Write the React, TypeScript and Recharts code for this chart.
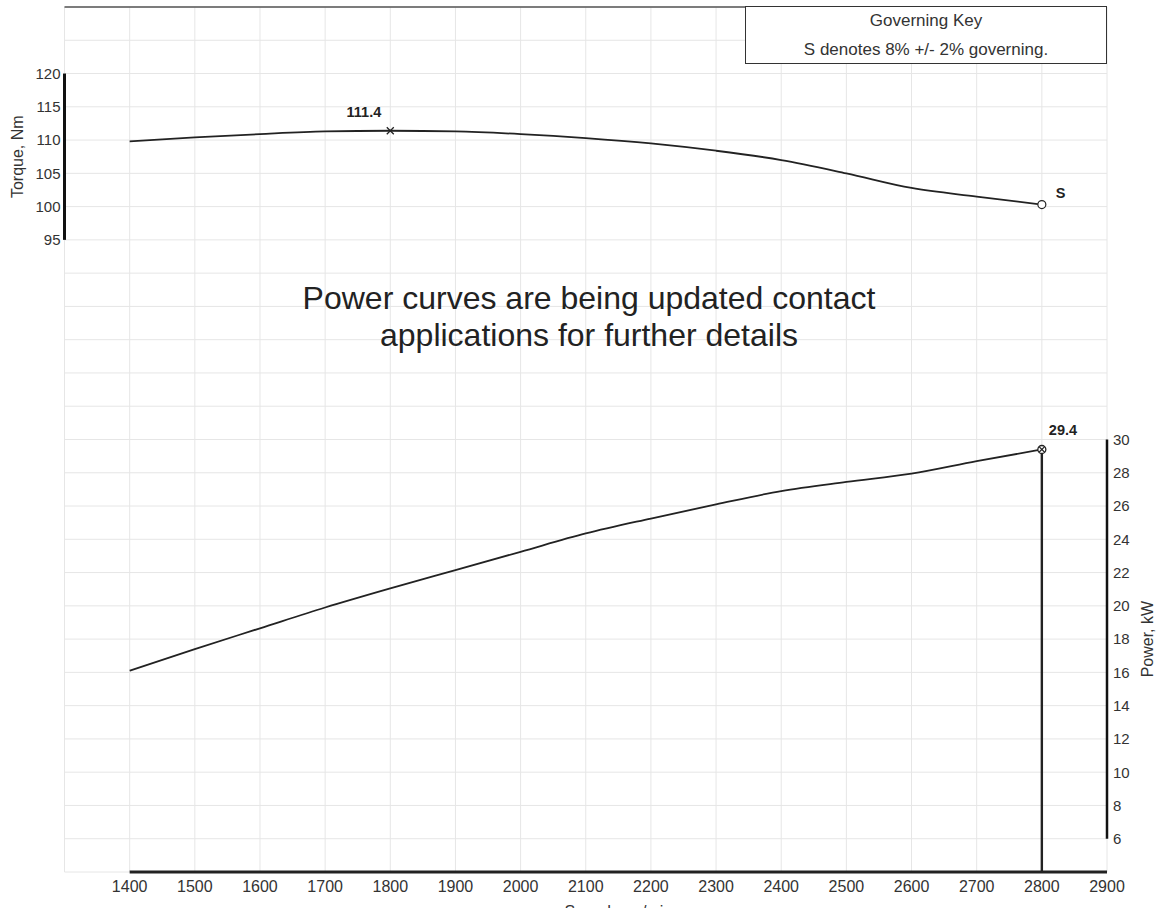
import { ComposedChart, Line, XAxis, YAxis, CartesianGrid, ReferenceLine } from "recharts"

const FONT = "'Liberation Sans', Arial, sans-serif"
const INK = "#222"

// engine speed, rev/min
const speeds = [1400, 1500, 1600, 1700, 1800, 1900, 2000, 2100, 2200, 2300, 2400, 2500, 2600, 2700, 2800]
// torque, Nm
const torque = [109.8, 110.4, 110.9, 111.3, 111.4, 111.3, 110.9, 110.3, 109.5, 108.4, 107.0, 105.0, 102.8, 101.5, 100.3]
// power, kW
const power = [16.1, 17.4, 18.65, 19.9, 21.05, 22.15, 23.25, 24.35, 25.25, 26.1, 26.9, 27.45, 27.95, 28.7, 29.4]

const speedTicks = [1300, 1400, 1500, 1600, 1700, 1800, 1900, 2000, 2100, 2200, 2300, 2400, 2500, 2600, 2700, 2800, 2900]
const torqueTicks = [0, 5, 10, 15, 20, 25, 30, 35, 40, 45, 50, 55, 60, 65, 70, 75, 80, 85, 90, 95, 100, 105, 110, 115, 120, 125, 130]
const powerTicks = [6, 8, 10, 12, 14, 16, 18, 20, 22, 24, 26, 28, 30]

const governingNote = "S denotes 8% +/- 2% governing."
const notice = ["Power curves are being updated contact", "applications for further details"]

const data = speeds.map((speed, i) => ({ speed, torque: torque[i], power: power[i] }))

const peakIdx = torque.indexOf(Math.max(...torque))
const lastIdx = speeds.length - 1

function TorqueDot(props: any) {
  const { cx, cy, index } = props
  if (index === peakIdx) {
    const s = 3.5
    return (
      <g key={`t${index}`}>
        <path d={`M${cx - s},${cy - s}L${cx + s},${cy + s}M${cx - s},${cy + s}L${cx + s},${cy - s}`} stroke={INK} strokeWidth={1.3} />
        <text x={cx - 9} y={cy - 14} textAnchor="end" fontSize={14.5} fontWeight="bold" fill={INK} fontFamily={FONT}>
          {torque[index].toFixed(1)}
        </text>
      </g>
    )
  }
  if (index === lastIdx) {
    return (
      <g key={`t${index}`}>
        <circle cx={cx} cy={cy} r={4} fill="#fff" stroke={INK} strokeWidth={1.2} />
        <text x={cx + 14} y={cy - 7} fontSize={14.5} fontWeight="bold" fill={INK} fontFamily={FONT}>
          S
        </text>
      </g>
    )
  }
  return <g key={`t${index}`} />
}

function PowerDot(props: any) {
  const { cx, cy, index } = props
  if (index === lastIdx) {
    const s = 2.8
    return (
      <g key={`p${index}`}>
        <circle cx={cx} cy={cy} r={4} fill="#fff" stroke={INK} strokeWidth={1.3} />
        <path d={`M${cx - s},${cy - s}L${cx + s},${cy + s}M${cx - s},${cy + s}L${cx + s},${cy - s}`} stroke={INK} strokeWidth={1.2} />
        <text x={cx + 7} y={cy - 14} fontSize={14.5} fontWeight="bold" fill={INK} fontFamily={FONT}>
          {power[index].toFixed(1)}
        </text>
      </g>
    )
  }
  return <g key={`p${index}`} />
}

function vbOf(props: any) {
  const vb = props.viewBox || {}
  const x = vb.x ?? Math.min(vb.x1, vb.x2)
  const y = vb.y ?? Math.min(vb.y1, vb.y2)
  const width = vb.width ?? Math.abs(vb.x2 - vb.x1)
  const height = vb.height ?? Math.abs(vb.y2 - vb.y1)
  return { x, y, width, height }
}

function RotatedTitle(text: string, dx: number) {
  return (props: any) => {
    const { x, y, height } = vbOf(props)
    const tx = x + dx
    const ty = y + height / 2
    return (
      <text x={tx} y={ty} transform={`rotate(-90 ${tx} ${ty})`} textAnchor="middle" dominantBaseline="central" fontSize={16} fill="#333" fontFamily={FONT}>
        {text}
      </text>
    )
  }
}

function SpeedTitle(props: any) {
  const { x, y, width } = vbOf(props)
  return (
    <text x={x + width / 2} y={y + 44.5} textAnchor="middle" fontSize={16} fill="#333" fontFamily={FONT}>
      Speed, rev/min
    </text>
  )
}

export default function App() {
  return (
    <div style={{ position: "absolute", left: 0, top: 0, width: 1163, height: 908, background: "#fff", fontFamily: FONT }}>
      <ComposedChart width={1163} height={908} data={data} margin={{ top: 7, right: 0, bottom: 0, left: 0 }}>
        <CartesianGrid yAxisId="torque" stroke="#e6e6e6" strokeWidth={1} />
        <XAxis
          dataKey="speed"
          type="number"
          domain={[1300, 2900]}
          ticks={speedTicks}
          interval={0}
          height={36}
          axisLine={false}
          tickLine={false}
          tickSize={0}
          tickMargin={9}
          tick={{ fontSize: 16, fill: "#333", fontFamily: FONT }}
          tickFormatter={(v: number) => (v < 1400 ? "" : String(v))}
        />
        <YAxis
          yAxisId="torque"
          orientation="left"
          width={64.5}
          domain={[0, 130]}
          ticks={torqueTicks}
          interval={0}
          axisLine={false}
          tickLine={false}
          tickSize={0}
          tickMargin={4}
          tick={{ fontSize: 15, fill: "#333", fontFamily: FONT }}
          tickFormatter={(v: number) => (v >= 95 && v <= 120 ? String(v) : "")}
        />
        <YAxis
          yAxisId="power"
          orientation="right"
          width={56}
          domain={[4, 56]}
          ticks={powerTicks}
          interval={0}
          axisLine={false}
          tickLine={false}
          tickSize={0}
          tickMargin={6}
          tick={{ fontSize: 15, fill: "#333", fontFamily: FONT }}
        />

        {/* top border of the plot */}
        <ReferenceLine yAxisId="torque" y={130} stroke="#555" strokeWidth={1.5} ifOverflow="visible" />

        {/* partial axis lines */}
        <ReferenceLine
          yAxisId="torque"
          segment={[{ x: 1300, y: 95 }, { x: 1300, y: 120 }]}
          stroke="#111"
          strokeWidth={3}
          ifOverflow="visible"
          label={RotatedTitle("Torque, Nm", -46.5)}
        />
        <ReferenceLine
          yAxisId="power"
          segment={[{ x: 2900, y: 6 }, { x: 2900, y: 30 }]}
          stroke="#111"
          strokeWidth={2.5}
          ifOverflow="visible"
          label={RotatedTitle("Power, kW", 41)}
        />
        <ReferenceLine
          yAxisId="torque"
          segment={[{ x: 1400, y: 0 }, { x: 2900, y: 0 }]}
          stroke={INK}
          strokeWidth={2.8}
          ifOverflow="visible"
          label={SpeedTitle}
        />

        {/* governed speed drop line */}
        <ReferenceLine
          yAxisId="power"
          segment={[{ x: speeds[lastIdx], y: 4 }, { x: speeds[lastIdx], y: power[lastIdx] }]}
          stroke={INK}
          strokeWidth={2.4}
          ifOverflow="visible"
        />

        <Line
          yAxisId="torque"
          dataKey="torque"
          type="monotone"
          stroke={INK}
          strokeWidth={1.8}
          dot={TorqueDot}
          activeDot={false}
          isAnimationActive={false}
        />
        <Line
          yAxisId="power"
          dataKey="power"
          type="monotone"
          stroke={INK}
          strokeWidth={1.8}
          dot={PowerDot}
          activeDot={false}
          isAnimationActive={false}
        />
      </ComposedChart>

      <div
        style={{
          position: "absolute",
          left: 745,
          top: 6,
          width: 362,
          height: 58,
          boxSizing: "border-box",
          border: "1.5px solid #333",
          background: "#fff",
        }}
      />
      <div style={{ position: "absolute", left: 745, top: 10.5, width: 362, textAlign: "center", fontSize: 17, lineHeight: "20px", color: "#333" }}>
        Governing Key
      </div>
      <div style={{ position: "absolute", left: 745, top: 40, width: 362, textAlign: "center", fontSize: 17, lineHeight: "20px", color: "#333" }}>
        {governingNote}
      </div>

      <div
        style={{
          position: "absolute",
          left: 189,
          top: 280,
          width: 800,
          textAlign: "center",
          fontSize: 32,
          lineHeight: "37px",
          color: "#222",
        }}
      >
        {notice.map((line) => (
          <div key={line}>{line}</div>
        ))}
      </div>
    </div>
  )
}
